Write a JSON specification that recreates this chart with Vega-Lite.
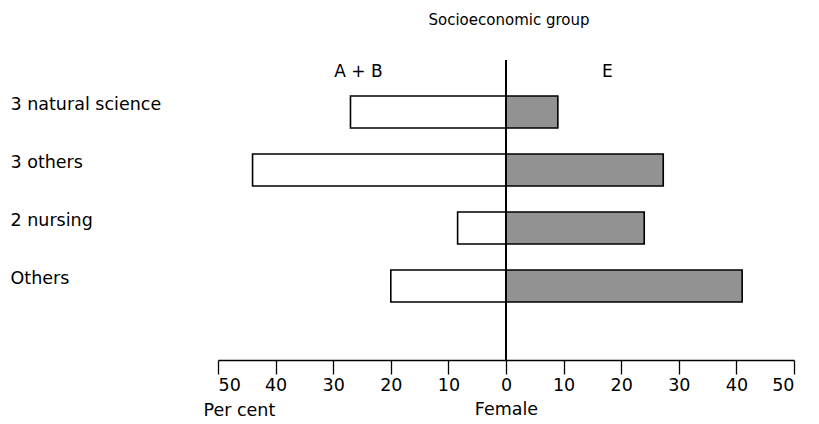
{
  "$schema": "https://vega.github.io/schema/vega-lite/v6.json",
  "width": 576,
  "height": 300,
  "autosize": {"type": "none"},
  "padding": {"left": 218, "top": 60, "right": 25, "bottom": 64},
  "background": "white",
  "config": {
    "view": {"stroke": null},
    "font": "DejaVu Sans"
  },
  "title": {
    "text": "Socioeconomic group",
    "fontSize": 15,
    "fontWeight": "normal",
    "anchor": "middle",
    "frame": "group",
    "offset": 32,
    "dx": 3,
    "color": "black"
  },
  "data": {
    "values": [
      {"subject": "3 natural science", "group": "A + B", "value": -27},
      {"subject": "3 natural science", "group": "E", "value": 9},
      {"subject": "3 others", "group": "A + B", "value": -44},
      {"subject": "3 others", "group": "E", "value": 27.3},
      {"subject": "2 nursing", "group": "A + B", "value": -8.4},
      {"subject": "2 nursing", "group": "E", "value": 24},
      {"subject": "Others", "group": "A + B", "value": -20},
      {"subject": "Others", "group": "E", "value": 41}
    ]
  },
  "layer": [
    {
      "mark": {"type": "bar", "stroke": "black", "strokeWidth": 1.6},
      "encoding": {
        "y": {
          "field": "subject",
          "type": "nominal",
          "sort": ["3 natural science", "3 others", "2 nursing", "Others"],
          "scale": {"paddingInner": 0.448, "paddingOuter": 0.81, "align": 0.383},
          "axis": {
            "title": "Per cent",
            "titleAngle": 0,
            "titleAlign": "left",
            "titleBaseline": "middle",
            "titleX": -15,
            "titleY": 350,
            "titleFontSize": 17.5,
            "titleFontWeight": "normal",
            "titleColor": "black",
            "domain": false,
            "ticks": false,
            "labelAlign": "left",
            "labelPadding": 208,
            "labelOffset": -7,
            "labelFontSize": 17.5,
            "labelColor": "black"
          }
        },
        "x": {
          "field": "value",
          "type": "quantitative",
          "scale": {"domain": [-50, 50], "nice": false},
          "axis": {
            "title": "Female",
            "titleFontSize": 17.5,
            "titleFontWeight": "normal",
            "titleColor": "black",
            "titlePadding": 7,
            "values": [-50, -40, -30, -20, -10, 0, 10, 20, 30, 40, 50],
            "labelExpr": "abs(datum.value)",
            "labelFontSize": 17.5,
            "labelColor": "black",
            "labelPadding": 2,
            "tickSize": 14,
            "tickColor": "black",
            "tickWidth": 1.3,
            "domainColor": "black",
            "domainWidth": 1.5,
            "grid": false
          }
        },
        "fill": {
          "field": "group",
          "type": "nominal",
          "scale": {"domain": ["A + B", "E"], "range": ["white", "#929292"]},
          "legend": null
        }
      }
    },
    {
      "mark": {"type": "rule", "color": "black", "strokeWidth": 1},
      "encoding": {
        "x": {
          "datum": 0,
          "type": "quantitative",
          "axis": {
            "orient": "top",
            "title": null,
            "values": [-25.7, 17.5],
            "labelExpr": "datum.value < 0 ? 'A + B' : 'E'",
            "domain": false,
            "ticks": false,
            "grid": false,
            "labelPadding": -20,
            "labelFontSize": 17,
            "labelColor": "black"
          }
        }
      }
    }
  ],
  "resolve": {"axis": {"x": "independent"}}
}
